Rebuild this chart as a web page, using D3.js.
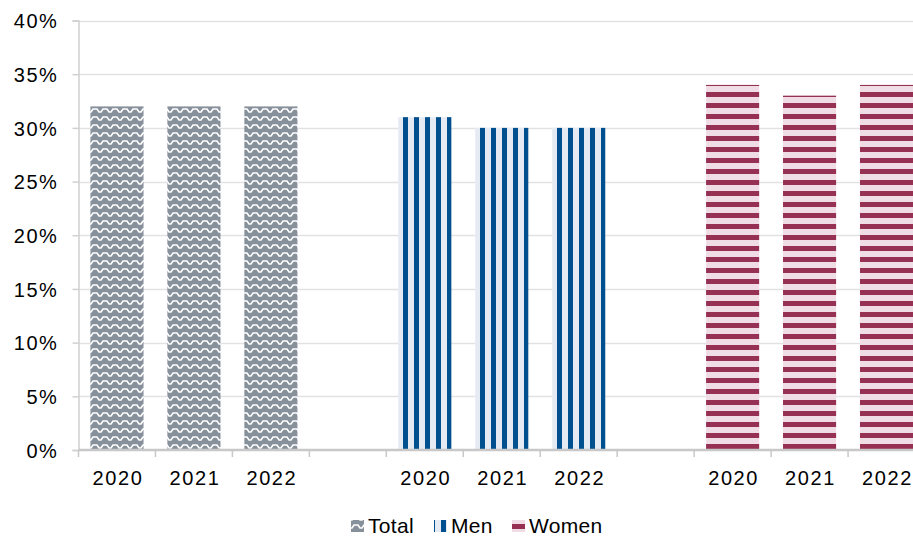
<!DOCTYPE html>
<html lang="en">
<head>
<meta charset="UTF-8">
<title>Share by year</title>
<script src="https://d3js.org/d3.v7.min.js"></script>
<style>
    body { margin: 0; background: #fff; overflow: hidden; }
    svg { display: block; font-family: "Liberation Sans", Arial, sans-serif; }
    .tick-label { font-size: 20px; letter-spacing: 1.6px; fill: #000; }
    .legend-label { font-size: 21px; letter-spacing: 0.3px; fill: #000; }
</style>
</head>
<body>
<div id="chart"></div>
<script>
    const groups = ["Total", "Men", "Women"];
    const years = ["2020", "2021", "2022"];
    const total = [0.32, 0.32, 0.32];
    const men = [0.31, 0.30, 0.30];
    const women = [0.34, 0.33, 0.34];
    const yTicks = [0, 0.05, 0.10, 0.15, 0.20, 0.25, 0.30, 0.35, 0.40];

    const width = 913, height = 537;
    const plotLeft = 78.5, plotRight = 925, plotTop = 20.5, plotBottom = 450;

    // one slot per bar, plus an empty slot between groups
    const series = { Total: total, Men: men, Women: women };
    const rows = [];
    groups.forEach((g, gi) => {
        years.forEach((yr, i) => rows.push({ key: g + " " + yr, group: g, year: yr, value: series[g][i] }));
        if (gi < groups.length - 1) rows.push({ key: "gap" + gi, group: null, year: "", value: null });
    });

    const svg = d3.select("#chart").append("svg")
        .attr("width", width)
        .attr("height", height);

    const defs = svg.append("defs");

    // Total: grey with white zigzag
    const pTotal = defs.append("pattern")
        .attr("id", "pat-total")
        .attr("patternUnits", "userSpaceOnUse")
        .attr("x", 0).attr("y", 2)
        .attr("width", 10).attr("height", 8);
    pTotal.append("rect").attr("width", 10).attr("height", 8).attr("fill", "#87919b");
    pTotal.append("polyline")
        .attr("points", "-1,6 1,6 3,3 7,3 9,6 11,6")
        .attr("fill", "none")
        .attr("stroke", "#fff")
        .attr("stroke-width", 1.6);

    // Men: light blue with dark vertical stripes
    const pMen = defs.append("pattern")
        .attr("id", "pat-men")
        .attr("patternUnits", "userSpaceOnUse")
        .attr("x", 7).attr("y", 0)
        .attr("width", 11).attr("height", 11);
    pMen.append("rect").attr("width", 11).attr("height", 11).attr("fill", "#e6ebf3");
    pMen.append("rect").attr("width", 5).attr("height", 11).attr("fill", "#00508f");

    // Women: light pink with dark horizontal stripes
    const pWomen = defs.append("pattern")
        .attr("id", "pat-women")
        .attr("patternUnits", "userSpaceOnUse")
        .attr("x", 0).attr("y", 4)
        .attr("width", 11).attr("height", 11);
    pWomen.append("rect").attr("width", 11).attr("height", 11).attr("fill", "#f0dce4");
    pWomen.append("rect").attr("width", 11).attr("height", 5).attr("fill", "#963154");

    const fills = { Total: "url(#pat-total)", Men: "url(#pat-men)", Women: "url(#pat-women)" };

    const x = d3.scaleBand()
        .domain(rows.map(d => d.key))
        .range([plotLeft, plotRight])
        .paddingInner(0.31)
        .paddingOuter(0.155);

    const y = d3.scaleLinear()
        .domain([0, 0.4])
        .range([plotBottom, plotTop]);

    // gridlines
    svg.append("g")
        .selectAll("line")
        .data(yTicks.filter(d => d > 0))
        .join("line")
        .attr("x1", plotLeft).attr("x2", plotRight)
        .attr("y1", d => Math.round(y(d)) + 0.5)
        .attr("y2", d => Math.round(y(d)) + 0.5)
        .attr("stroke", "#e2e2e2")
        .attr("stroke-width", 1.5);

    // y axis
    const yAxis = svg.append("g")
        .attr("transform", `translate(${plotLeft},0)`)
        .call(d3.axisLeft(y).tickValues(yTicks).tickFormat(d3.format(".0%")).tickSize(6).tickPadding(14));
    yAxis.select(".domain").attr("stroke", "#d0d0d0").attr("stroke-width", 1.5);
    yAxis.selectAll(".tick line").attr("stroke", "#d0d0d0").attr("stroke-width", 1.5);
    yAxis.selectAll(".tick text")
        .attr("class", "tick-label")
        .attr("dy", "0.36em");
    yAxis.attr("font-family", null).attr("font-size", null);

    // bars
    svg.append("g")
        .selectAll("rect")
        .data(rows.filter(d => d.value != null))
        .join("rect")
        .attr("x", d => x(d.key))
        .attr("y", d => y(d.value))
        .attr("width", x.bandwidth())
        .attr("height", d => y(0) - y(d.value))
        .attr("fill", d => fills[d.group]);

    // x axis: labels at slot centres, ticks at slot edges
    const half = (x.step() - x.bandwidth()) / 2;
    const edges = rows.map(d => x(d.key) - half).concat([plotRight]);

    svg.append("line")
        .attr("x1", plotLeft).attr("x2", plotRight)
        .attr("y1", plotBottom).attr("y2", plotBottom)
        .attr("stroke", "#c8c8c8")
        .attr("stroke-width", 2.5);

    svg.append("g")
        .selectAll("line")
        .data(edges)
        .join("line")
        .attr("x1", d => d).attr("x2", d => d)
        .attr("y1", plotBottom).attr("y2", plotBottom + 7)
        .attr("stroke", "#c8c8c8")
        .attr("stroke-width", 1.5);

    svg.append("g")
        .selectAll("text")
        .data(rows.filter(d => d.year))
        .join("text")
        .attr("class", "tick-label")
        .attr("x", d => x(d.key) + x.bandwidth() / 2 + 1)
        .attr("y", 485)
        .attr("text-anchor", "middle")
        .text(d => d.year);

    // legend
    const legendX = [351, 434, 512];
    const legend = svg.append("g")
        .selectAll("g")
        .data(groups)
        .join("g")
        .attr("transform", (d, i) => `translate(${legendX[i]},520)`);

    legend.append("rect")
        .attr("width", 13).attr("height", 12)
        .attr("fill", d => fills[d]);

    legend.append("text")
        .attr("class", "legend-label")
        .attr("x", 17)
        .attr("y", 12.5)
        .text(d => d);
</script>
</body>
</html>
